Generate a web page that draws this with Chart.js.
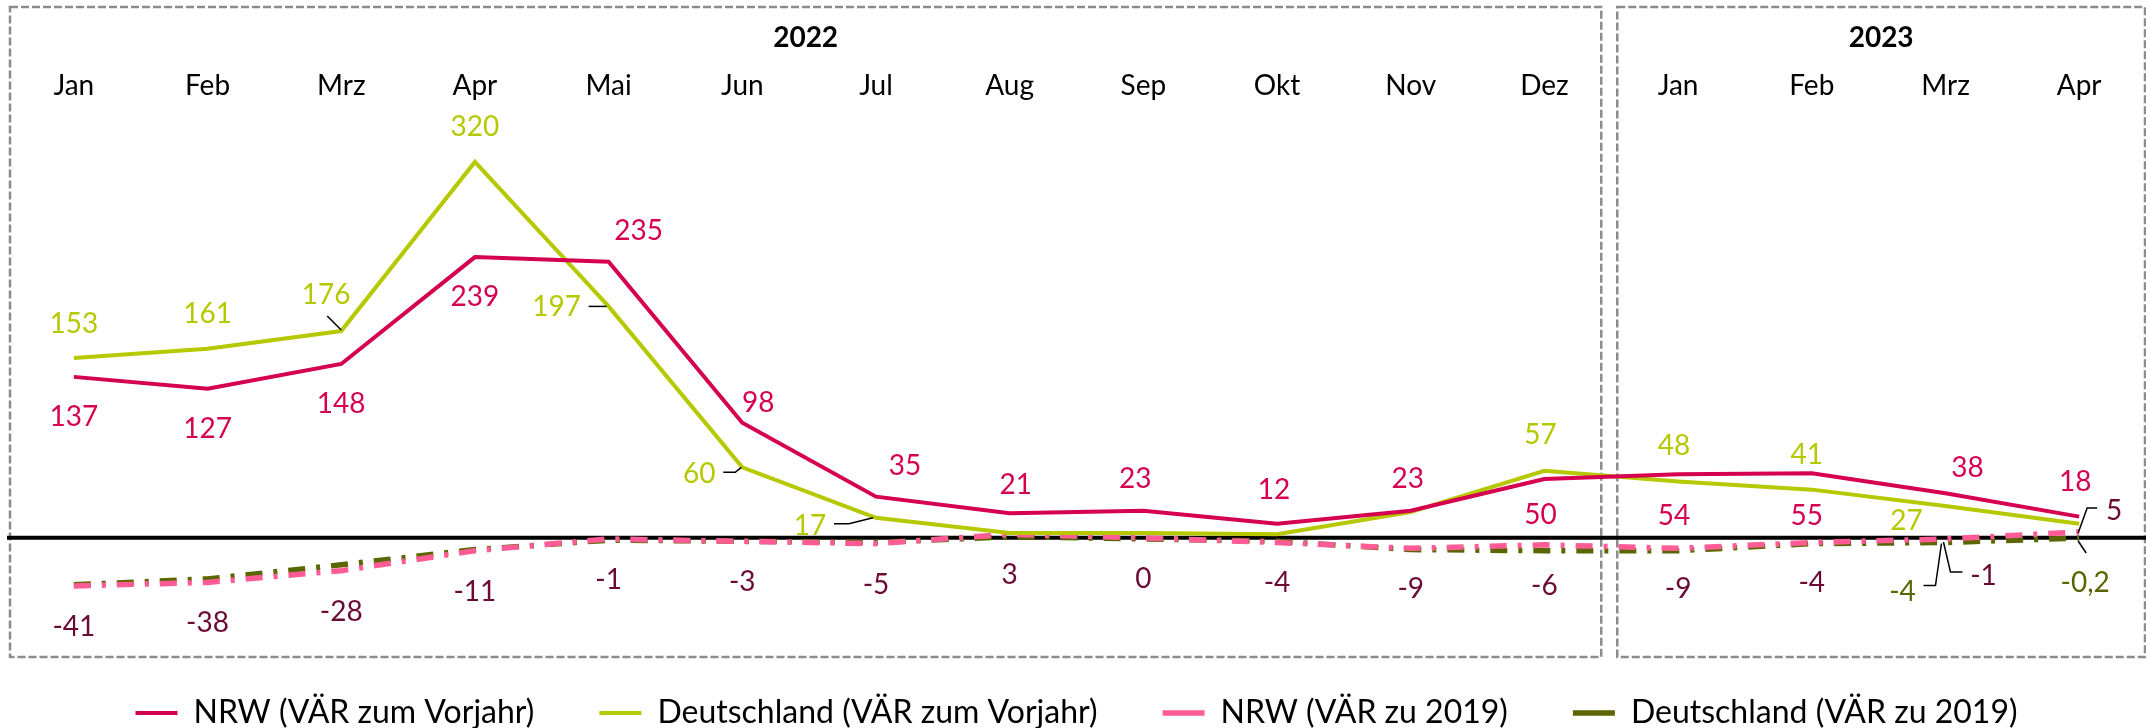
<!DOCTYPE html>
<html lang="de">
<head>
<meta charset="utf-8">
<title>VÄR NRW und Deutschland</title>
<script src="https://cdn.jsdelivr.net/npm/chart.js@4.4.1/dist/chart.umd.min.js"></script>
<style>
  html, body { margin: 0; padding: 0; background: #ffffff; }
  #diagramm { display: block; }
</style>
</head>
<body>
<canvas id="diagramm" width="2146" height="728"></canvas>
<script>
// Monate (Jan 2022 bis Apr 2023)
var monate = ["Jan", "Feb", "Mrz", "Apr", "Mai", "Jun", "Jul", "Aug", "Sep", "Okt", "Nov", "Dez",
              "Jan", "Feb", "Mrz", "Apr"];
var jahre = ["2022", "2023"];
var monateProJahr = [12, 4];

// Werte
var nrwVorjahr = [137, 127, 148, 239, 235, 98, 35, 21, 23, 12, 23, 50, 54, 55, 38, 18];
var deVorjahr = [153, 161, 176, 320, 197, 60, 17, 4, 4, 3, 22, 57, 48, 41, 27, 12];
var nrw2019 = [-41, -38, -28, -11, -1, -3, -5, 3, 0, -4, -9, -6, -9, -4, -1, 5];
var de2019 = [-40, -35, -23, -10, -2, -3, -4, 1, -1, -3, -10, -11, -11, -5, -4, -0.2];

var schrift = "Lato, 'Open Sans', sans-serif";

var farbeNrw = "#d50050";
var farbeDe = "#b5c800";
var farbeNrw2019 = "#ff5c97";
var farbeDe2019 = "#5c6600";

// Beschriftung je Datenreihe: Index -> [dx, dy] relativ zum Punkt (nur beschriftete Punkte)
var platzierung = [
  { 0: [0, 39], 1: [0, 39], 2: [0, 39], 3: [0, 39], 4: [30, -32], 5: [16, -21], 6: [29, -32],
    7: [6, -29], 8: [-8, -33], 9: [-3, -35], 10: [-3, -33], 11: [-4, 35], 12: [-4, 41],
    13: [-5, 42], 14: [22, -26], 15: [-4, -36] },
  { 0: [0, -35], 1: [0, -36], 2: [-15, -37], 3: [0, -36], 4: [-52, 0], 5: [-43, 6], 6: [-66, 7],
    11: [-4, -37], 12: [-4, -36], 13: [-5, -36], 14: [-39, 14] },
  { 0: [0, 40], 1: [0, 40], 2: [0, 40], 3: [0, 40], 4: [0, 40], 5: [0, 40], 6: [0, 40],
    7: [0, 40], 8: [0, 40], 9: [0, 40], 10: [0, 40], 11: [0, 40], 12: [0, 40], 13: [0, 40],
    14: [38, 36], 15: [35, -22] },
  { 14: [-43, 49], 15: [6, 44] }
];
var beschriftungsFarben = [farbeNrw, farbeDe, "#6b0a35", farbeDe2019];

// Hinweislinien (Datenreihe-Index -> Stuetzpunkte relativ zum Punkt)
var hinweislinien = {
  "1-2": [[-14, -15], [0, -1]],
  "1-4": [[-20, 0], [-2, 0]],
  "1-5": [[-19, 5], [-7, 5], [-1, 0]],
  "1-6": [[-42, 6], [-27, 6], [-3, 0]],
  "2-14": [[17, 33], [5, 33], [-2, 3]],
  "2-15": [[18, -24], [8, -24], [-1, 1]],
  "3-14": [[-22, 43], [-10, 43], [-4, 1]],
  "3-15": [[7, 15], [-1, 3]]
};

function zahlText(wert) {
  return String(wert).replace(".", ",");
}

var rahmenPlugin = {
  id: "rahmen",
  beforeDatasetsDraw: function (chart) {
    var ctx = chart.ctx;
    var xs = chart.scales.x;
    var ys = chart.scales.y;
    var bereich = chart.chartArea;
    var halb = (xs.getPixelForValue(1) - xs.getPixelForValue(0)) / 2;

    ctx.save();
    // gestrichelte Rahmen je Jahr
    var start = 0;
    for (var j = 0; j < jahre.length; j++) {
      var ende = start + monateProJahr[j] - 1;
      var links = xs.getPixelForValue(start) - halb + (j === 0 ? 3 : 6);
      var rechts = xs.getPixelForValue(ende) + halb - (j === 0 ? 10 : 1);
      ctx.strokeStyle = "#8c8c8c";
      ctx.lineWidth = 2.5;
      ctx.setLineDash([8, 3]);
      ctx.strokeRect(links, 7, rechts - links, 650);

      ctx.setLineDash([]);
      ctx.fillStyle = "#000";
      ctx.font = "bold 28px " + schrift;
      ctx.textAlign = "center";
      ctx.textBaseline = "alphabetic";
      ctx.fillText(jahre[j], (links + rechts) / 2, 47);
      start = ende + 1;
    }

    // Nulllinie
    var y0 = ys.getPixelForValue(0);
    ctx.setLineDash([]);
    ctx.strokeStyle = "#000";
    ctx.lineWidth = 4;
    ctx.beginPath();
    ctx.moveTo(bereich.left, y0);
    ctx.lineTo(bereich.right, y0);
    ctx.stroke();
    ctx.restore();
  },
  afterDatasetsDraw: function (chart) {
    var ctx = chart.ctx;
    ctx.save();
    ctx.font = "28px " + schrift;
    ctx.textAlign = "center";
    ctx.textBaseline = "alphabetic";

    chart.data.datasets.forEach(function (ds, i) {
      var meta = chart.getDatasetMeta(i);
      Object.keys(platzierung[i]).forEach(function (k) {
        var idx = Number(k);
        var punkt = meta.data[idx];
        var versatz = platzierung[i][k];

        var linie = hinweislinien[i + "-" + idx];
        if (linie) {
          ctx.strokeStyle = "#000";
          ctx.lineWidth = 1.5;
          ctx.beginPath();
          linie.forEach(function (p, n) {
            if (n === 0) ctx.moveTo(punkt.x + p[0], punkt.y + p[1]);
            else ctx.lineTo(punkt.x + p[0], punkt.y + p[1]);
          });
          ctx.stroke();
        }

        ctx.fillStyle = beschriftungsFarben[i];
        ctx.fillText(zahlText(ds.data[idx]), punkt.x + versatz[0], punkt.y + versatz[1] + 10);
      });
    });
    ctx.restore();
  }
};

function erstelleDiagramm() {
  var canvas = document.getElementById("diagramm").getContext("2d");

  window.diagramm = new Chart(canvas, {
    type: "line",
    data: {
      labels: monate,
      datasets: [
        {
          label: "NRW (VÄR zum Vorjahr)",
          data: nrwVorjahr,
          borderColor: farbeNrw,
          backgroundColor: farbeNrw,
          borderWidth: 4,
        },
        {
          label: "Deutschland (VÄR zum Vorjahr)",
          data: deVorjahr,
          borderColor: farbeDe,
          backgroundColor: farbeDe,
          borderWidth: 4,
        },
        {
          label: "NRW (VÄR zu 2019)",
          data: nrw2019,
          borderColor: farbeNrw2019,
          backgroundColor: farbeNrw2019,
          borderWidth: 5.5,
          borderDash: [17, 11, 4, 11],
        },
        {
          label: "Deutschland (VÄR zu 2019)",
          data: de2019,
          borderColor: farbeDe2019,
          backgroundColor: farbeDe2019,
          borderWidth: 5.5,
          borderDash: [17, 11, 4, 11],
        },
      ],
    },
    options: {
      responsive: false,
      animation: false,
      layout: {
        padding: { top: 63, left: 7, right: 0, bottom: 0 },
      },
      elements: {
        point: { radius: 0, hoverRadius: 0 },
        line: { tension: 0 },
      },
      plugins: {
        tooltip: { enabled: false },
        legend: {
          position: "bottom",
          // Hoehe begrenzen, damit der grosse Abstand zwischen den Eintraegen
          // die Zeichenflaeche nicht zu stark verkleinert
          maxHeight: 96,
          labels: {
            color: "#000",
            font: { family: schrift, size: 32 },
            usePointStyle: true,
            pointStyle: "line",
            pointStyleWidth: 42,
            boxHeight: 32,
            padding: 65,
            generateLabels: function (chart) {
              var items = Chart.defaults.plugins.legend.labels.generateLabels(chart);
              items.forEach(function (item) {
                if (item.lineDash && item.lineDash.length) {
                  item.lineDash = [11, 6, 3, 6];
                }
              });
              return items;
            },
          },
        },
      },
      scales: {
        x: {
          position: "top",
          offset: true,
          grid: { display: false, drawTicks: false },
          border: { display: false },
          ticks: {
            color: "#000",
            font: { family: schrift, size: 28 },
            padding: 6,
            maxRotation: 0,
            autoSkip: false,
          },
        },
        y: {
          min: -80.2,
          max: 365.4,
          display: false,
        },
      },
    },
    plugins: [rahmenPlugin],
  });
}

erstelleDiagramm();
</script>
</body>
</html>
